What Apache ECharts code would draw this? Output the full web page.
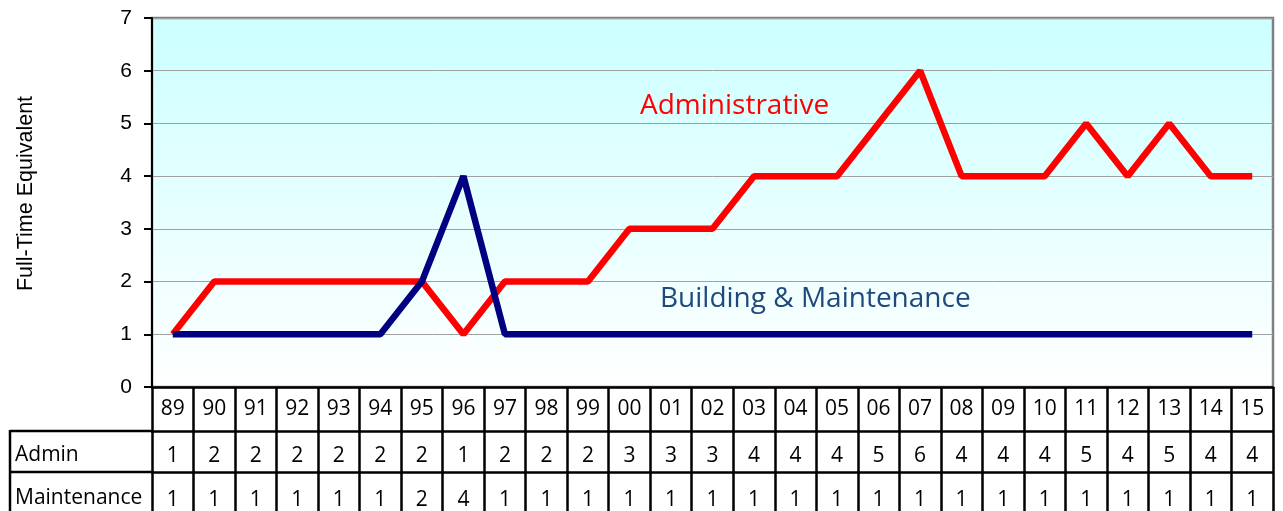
<!DOCTYPE html>
<html>
<head>
<meta charset="utf-8">
<script src="https://cdn.jsdelivr.net/npm/echarts@6/dist/echarts.min.js"></script>
<style>
  html, body { margin: 0; padding: 0; background: #fff; }
  #chart { width: 1283px; height: 511px; }
</style>
</head>
<body>
<div id="chart"></div>
<script>
// fiscal years shown along the bottom
const years = ['89', '90', '91', '92', '93', '94', '95', '96', '97', '98', '99', '00', '01', '02',
  '03', '04', '05', '06', '07', '08', '09', '10', '11', '12', '13', '14', '15'];
const admin = [1, 2, 2, 2, 2, 2, 2, 1, 2, 2, 2, 3, 3, 3, 4, 4, 4, 5, 6, 4, 4, 4, 5, 4, 5, 4, 4];
const maintenance = [1, 1, 1, 1, 1, 1, 2, 4, 1, 1, 1, 1, 1, 1, 1, 1, 1, 1, 1, 1, 1, 1, 1, 1, 1, 1, 1];
const yTicks = [0, 1, 2, 3, 4, 5, 6, 7];

const tableFont = '"Open Sans", Lato, sans-serif';

let chart = echarts.init(document.getElementById('chart'));

// one x axis per table row, stacked with offsets, ticks act as the cell walls
function tableAxis(offset, rowHeight, margin, values) {
  return {
    type: 'category',
    data: years,
    position: 'bottom',
    offset: offset,
    boundaryGap: true,
    axisLine: { show: true, lineStyle: { color: '#000', width: 2.5 } },
    axisTick: { show: true, interval: 0, length: rowHeight, lineStyle: { color: '#000', width: 2.5 } },
    axisLabel: {
      interval: 0,
      margin: margin,
      color: '#000',
      fontSize: 21,
      fontFamily: tableFont,
      formatter: function(v, i) { return String(values[i]); },
    },
    splitLine: { show: false },
  };
}

chart.setOption({
  animation: false,
  backgroundColor: '#fff',
  grid: {
    show: true,
    left: 152,
    right: 10,
    top: 18,
    bottom: 124,
    borderColor: '#808080',
    borderWidth: 2.5,
    backgroundColor: new echarts.graphic.LinearGradient(0, 0, 0, 1, [
      { offset: 0, color: '#ccffff' },
      { offset: 1, color: '#ffffff' },
    ]),
  },
  xAxis: [
    tableAxis(0, 44, 12, years),
    tableAxis(44, 41, 15, admin),
    tableAxis(85, 42, 18, maintenance),
  ],
  yAxis: {
    type: 'value',
    min: yTicks[0],
    max: yTicks[yTicks.length - 1],
    interval: 1,
    name: 'Full-Time Equivalent',
    nameLocation: 'middle',
    nameRotate: 90,
    nameGap: 115,
    nameTextStyle: { color: '#000', fontSize: 21.5, fontFamily: '"Liberation Sans", Arial, sans-serif', padding: [0, 0, 0, 18] },
    axisLine: { show: true, lineStyle: { color: '#000', width: 2 } },
    axisTick: { show: true, length: 8, lineStyle: { color: '#000', width: 2 } },
    axisLabel: { margin: 20, color: '#000', fontSize: 21, fontFamily: '"Liberation Sans", Arial, sans-serif' },
    splitLine: { show: true, lineStyle: { color: '#a0a0a0', width: 1 } },
  },
  series: [
    {
      name: 'Administrative',
      type: 'line',
      data: admin,
      symbol: 'none',
      lineStyle: { color: '#ff0000', width: 6.5 },
      z: 3,
    },
    {
      name: 'Building & Maintenance',
      type: 'line',
      data: maintenance,
      symbol: 'none',
      lineStyle: { color: '#000080', width: 6.5 },
      z: 4,
    },
  ],
  graphic: [
    { type: 'text', left: 640, top: 92, style: { text: 'Administrative', fill: '#ff0000', font: '28px ' + tableFont } },
    { type: 'text', left: 660, top: 285, style: { text: 'Building & Maintenance', fill: '#1f497d', font: '28px ' + tableFont } },
    // row-label cells on the left of the data table
    { type: 'line', shape: { x1: 10, y1: 431, x2: 152, y2: 431 }, style: { stroke: '#000', lineWidth: 2.5 } },
    { type: 'line', shape: { x1: 10, y1: 472, x2: 152, y2: 472 }, style: { stroke: '#000', lineWidth: 2.5 } },
    { type: 'line', shape: { x1: 10, y1: 430, x2: 10, y2: 511 }, style: { stroke: '#000', lineWidth: 2.5 } },
    { type: 'text', left: 15, top: 445, style: { text: 'Admin', fill: '#000', font: '21px ' + tableFont } },
    { type: 'text', left: 15, top: 488, style: { text: 'Maintenance', fill: '#000', font: '21px ' + tableFont } },
  ],
});
</script>
</body>
</html>
